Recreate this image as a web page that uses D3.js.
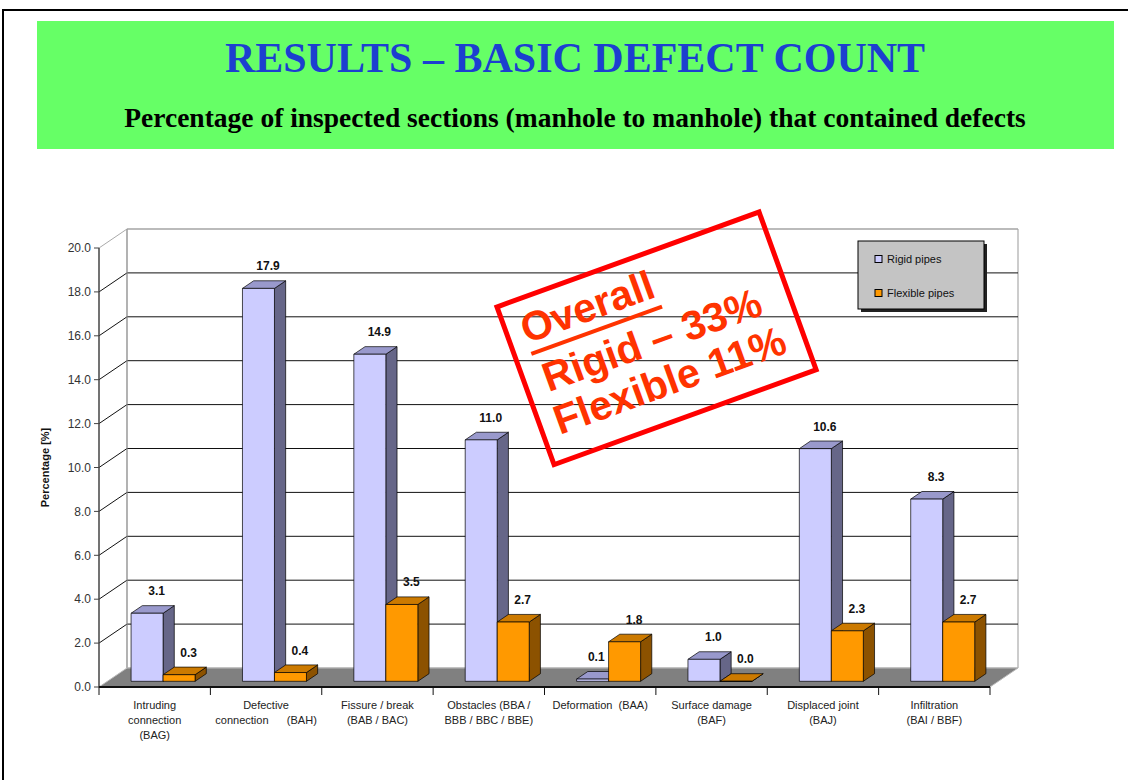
<html>
  <head>
    <script src="https://d3js.org/d3.v7.min.js"></script>
    <style>
      body { margin: 0; background: #fff; }
      .tick-label { font-family: Arial, "Liberation Sans", sans-serif; font-size: 12px; fill: #333; }
      .cat-label { font-family: Arial, "Liberation Sans", sans-serif; font-size: 11px; fill: #222; }
      .val-label { font-family: Arial, "Liberation Sans", sans-serif; font-size: 12px; font-weight: bold; fill: #111; }
      .legend-text { font-family: Arial, "Liberation Sans", sans-serif; font-size: 11px; fill: #111; }
    </style>
  </head>
  <body>
    <svg id="chart" width="1128" height="780"></svg>
    <script>
      // data
      const categories = ["BAG", "BAH", "BAB/BAC", "BBA/BBB/BBC/BBE", "BAA", "BAF", "BAJ", "BAI/BBF"];
      const catLabels = [
        ["Intruding", "connection", "(BAG)"],
        ["Defective", "connection      (BAH)"],
        ["Fissure / break", "(BAB / BAC)"],
        ["Obstacles (BBA /", "BBB / BBC / BBE)"],
        ["Deformation  (BAA)"],
        ["Surface damage", "(BAF)"],
        ["Displaced joint", "(BAJ)"],
        ["Infiltration", "(BAI / BBF)"]
      ];
      const seriesNames = ["Rigid pipes", "Flexible pipes"];
      const rigid = [3.1, 17.9, 14.9, 11.0, 0.1, 1.0, 10.6, 8.3];
      const flexible = [0.3, 0.4, 3.5, 2.7, 1.8, 0.0, 2.3, 2.7];
      const yTicks = [0, 2, 4, 6, 8, 10, 12, 14, 16, 18, 20];

      const svg = d3.select('svg#chart');

      // slide frame and header
      svg.append("rect").attr("x", 3).attr("y", 10).attr("width", 1140).attr("height", 800)
        .attr("fill", "none").attr("stroke", "#000").attr("stroke-width", 2);
      svg.append("rect").attr("x", 37).attr("y", 21).attr("width", 1077).attr("height", 128)
        .attr("fill", "#66ff66");
      svg.append("text").attr("x", 575).attr("y", 72).attr("text-anchor", "middle")
        .style("font-family", "'Liberation Serif', 'Times New Roman', serif")
        .style("font-size", "42px").style("font-weight", "bold").style("fill", "#1c3fd0")
        .text("RESULTS – BASIC DEFECT COUNT");
      svg.append("text").attr("x", 575).attr("y", 127).attr("text-anchor", "middle")
        .style("font-family", "'Liberation Serif', 'Times New Roman', serif")
        .style("font-size", "27.5px").style("font-weight", "bold").style("fill", "#000")
        .text("Percentage of inspected sections (manhole to manhole) that contained defects");

      // 3D chart geometry
      const x0 = 99, x1 = 990;
      const depth = {dx: 28, dy: -19};
      const y = d3.scaleLinear().domain([0, 20]).range([687, 248]);
      const x = d3.scaleBand().domain(categories).range([x0, x1]);
      const barW = 32;
      const inner = d3.scaleBand().domain(seriesNames).range([0, barW * 2]);
      const barD0 = 0.3, barD1 = 0.7;  // bar position in depth

      const P = (px, v, d) => [px + d * depth.dx, y(v) + d * depth.dy];
      const poly = pts => pts.map(p => p.join(",")).join(" ");

      const g = svg.append("g");

      // back wall
      g.append("polygon")
        .attr("points", poly([P(x0, 0, 1), P(x1, 0, 1), P(x1, 20, 1), P(x0, 20, 1)]))
        .attr("fill", "#fff").attr("stroke", "#999").attr("stroke-width", 1);
      // gridlines on back wall and side wall
      yTicks.slice(1).forEach(t => {
        const col = t === 20 ? "#aaa" : "#111";
        g.append("line")
          .attr("x1", P(x0, t, 1)[0]).attr("y1", P(x0, t, 1)[1])
          .attr("x2", P(x1, t, 1)[0]).attr("y2", P(x1, t, 1)[1])
          .attr("stroke", col).attr("stroke-width", 1);
        g.append("line")
          .attr("x1", P(x0, t, 0)[0]).attr("y1", P(x0, t, 0)[1])
          .attr("x2", P(x0, t, 1)[0]).attr("y2", P(x0, t, 1)[1])
          .attr("stroke", col).attr("stroke-width", 1);
      });
      g.append("line")
        .attr("x1", P(x0, 0, 1)[0]).attr("y1", P(x0, 0, 1)[1])
        .attr("x2", P(x0, 20, 1)[0]).attr("y2", P(x0, 20, 1)[1])
        .attr("stroke", "#999");

      // floor
      g.append("polygon")
        .attr("points", poly([P(x0, 0, 0), P(x1, 0, 0), P(x1, 0, 1), P(x0, 0, 1)]))
        .attr("fill", "#808080").attr("stroke", "#bbb").attr("stroke-width", 1);

      // y axis
      g.append("line").attr("x1", x0).attr("x2", x0).attr("y1", y(0)).attr("y2", y(20))
        .attr("stroke", "#444").attr("stroke-width", 1.5);
      yTicks.forEach(t => {
        g.append("line").attr("x1", x0 - 5).attr("x2", x0).attr("y1", y(t)).attr("y2", y(t))
          .attr("stroke", "#444");
        g.append("text").attr("class", "tick-label")
          .attr("x", x0 - 8).attr("y", y(t)).attr("dy", "0.35em").attr("text-anchor", "end")
          .text(d3.format(".1f")(t));
      });
      svg.append("text")
        .attr("transform", `translate(49, ${y(10)}) rotate(-90)`)
        .attr("text-anchor", "middle")
        .style("font-family", "Arial, 'Liberation Sans', sans-serif")
        .style("font-size", "11px").style("font-weight", "bold").style("fill", "#111")
        .text("Percentage [%]");

      // x axis
      g.append("line").attr("x1", x0).attr("x2", x1).attr("y1", y(0)).attr("y2", y(0))
        .attr("stroke", "#111").attr("stroke-width", 2);
      categories.concat(["end"]).forEach((c, i) => {
        const tx = x0 + i * x.bandwidth();
        g.append("line").attr("x1", tx).attr("x2", tx).attr("y1", y(0)).attr("y2", y(0) + 8)
          .attr("stroke", "#111");
      });
      categories.forEach((c, i) => {
        const t = g.append("text").attr("class", "cat-label").attr("text-anchor", "middle");
        catLabels[i].forEach((line, j) => {
          t.append("tspan").attr("x", x(c) + x.bandwidth() / 2).attr("y", 709 + j * 15)
            .attr("xml:space", "preserve").text(line);
        });
      });

      // bars
      const colors = {
        "Rigid pipes": {front: "#ccccff", side: "#666688", top: "#9999cc"},
        "Flexible pipes": {front: "#ff9900", side: "#8c5200", top: "#cc7a00"}
      };
      const series = [rigid, flexible];
      const barLayer = g.append("g");
      const labelLayer = g.append("g");  // labels on top of all bars
      categories.forEach((c, i) => {
        seriesNames.forEach((s, k) => {
          const v = series[k][i];
          const left = x(c) + x.bandwidth() / 2 - barW + inner(s);
          const right = left + inner.bandwidth();
          const col = colors[s];
          const fl = P(left, 0, barD0), fr = P(right, 0, barD0);
          const tl = P(left, v, barD0), tr = P(right, v, barD0);
          const bl = P(left, v, barD1), br = P(right, v, barD1);
          const sb = P(right, 0, barD1);
          // side
          barLayer.append("polygon").attr("points", poly([fr, sb, br, tr]))
            .attr("fill", col.side).attr("stroke", "#000").attr("stroke-width", 0.7);
          // top
          barLayer.append("polygon").attr("points", poly([tl, tr, br, bl]))
            .attr("fill", col.top).attr("stroke", "#000").attr("stroke-width", 0.7);
          // front
          barLayer.append("polygon").attr("points", poly([fl, fr, tr, tl]))
            .attr("fill", col.front).attr("stroke", "#000").attr("stroke-width", 0.7);
          const lbl = labelLayer.append("text").attr("class", "val-label").attr("text-anchor", "middle")
            .attr("y", tl[1] - 18)
            .text(d3.format(".1f")(v));
          let lx = (tl[0] + tr[0]) / 2 + 9.5;
          // keep a short rigid bar's label clear of the taller flexible bar beside it
          if (k === 0 && flexible[i] > v && y(flexible[i]) < tl[1] - 18) {
            const hw = lbl.node().getComputedTextLength() / 2;
            lx = Math.min(lx, tr[0] - hw - 4);
          }
          lbl.attr("x", lx);
        });
      });

      // legend
      const lg = svg.append("g").attr("transform", "translate(858,241)");
      lg.append("rect").attr("x", 3).attr("y", 3).attr("width", 126).attr("height", 68).attr("fill", "#222");
      lg.append("rect").attr("width", 126).attr("height", 68).attr("fill", "#c4c4c4")
        .attr("stroke", "#000").attr("stroke-width", 1);
      seriesNames.forEach((s, k) => {
        const ly = 18 + k * 34;
        lg.append("rect").attr("x", 17).attr("y", ly - 3.5).attr("width", 7).attr("height", 7)
          .attr("fill", colors[s].front).attr("stroke", "#000").attr("stroke-width", 1);
        lg.append("text").attr("class", "legend-text").attr("x", 29).attr("y", ly).attr("dy", "0.35em").text(s);
      });

      // red "stamp" annotation
      const st = svg.append("g").attr("transform", "translate(656.5,338.3) rotate(-19.9)");
      st.append("rect").attr("x", -139.3).attr("y", -83.8).attr("width", 278.7).attr("height", 167.7)
        .attr("fill", "none").attr("stroke", "#ff0000").attr("stroke-width", 5);
      const stampLines = [
        {text: "Overall", x: -124, y: -39},
        {text: "Rigid – 33%", x: -120, y: 14},
        {text: "Flexible 11%", x: -124, y: 58}
      ];
      stampLines.forEach((line, j) => {
        const t = st.append("text").attr("x", line.x).attr("y", line.y)
          .style("font-family", "Arial, 'Liberation Sans', sans-serif")
          .style("font-size", "41px").style("font-weight", "bold").style("fill", "#ff3300")
          .text(line.text);
        if (j === 0) {
          const w = t.node().getComputedTextLength();
          st.append("rect").attr("x", line.x + 1).attr("y", line.y + 9).attr("width", w).attr("height", 4)
            .attr("fill", "#ff3300");
        }
      });
    </script>
  </body>
</html>
